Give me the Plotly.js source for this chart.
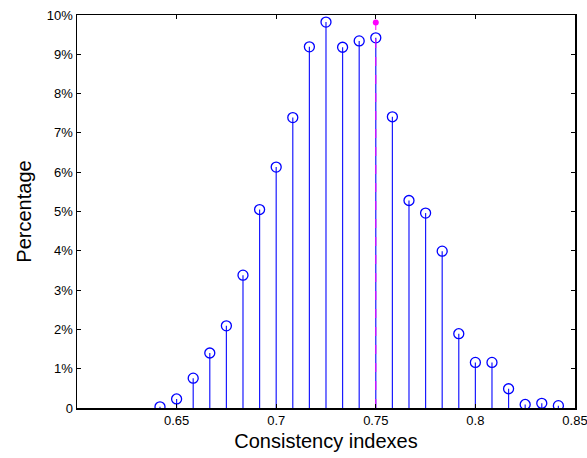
<!DOCTYPE html>
<html>
<head>
<meta charset="utf-8">
<script src="https://cdn.plot.ly/plotly-3.0.1.min.js"></script>
<style>html,body{margin:0;padding:0;background:#fff;overflow:hidden;}#chart{width:587px;height:458px;}</style>
</head>
<body>
<div id="chart"></div>
<script>
// Consistency index bins (k/120) and percentage of occurrences
const indexes = [77,78,79,80,81,82,83,84,85,86,87,88,89,90,91,92,93,94,95,96,97,98,99,100,101].map(k => k/120);
const percentages = [0.03,0.23,0.76,1.40,2.09,3.38,5.05,6.13,7.39,9.19,9.82,9.18,9.34,9.42,7.41,5.28,4.96,3.99,1.89,1.16,1.16,0.49,0.09,0.12,0.06];
const markerIndex = 0.75;
const markerPercent = 9.81;
const xTicks = [0.65,0.7,0.75,0.8,0.85];
const xTickText = ['0.65','0.7','0.75','0.8','0.85'];
const yTicks = [0,1,2,3,4,5,6,7,8,9,10];
const yTickText = ['0','1%','2%','3%','4%','5%','6%','7%','8%','9%','10%'];

const stems = {
  x: indexes, y: percentages, type: 'scatter', mode: 'markers',
  marker: {symbol: 'circle-open', size: 10, color: '#0000ff', line: {width: 1.3, color: '#0000ff'}},
  error_y: {type: 'data', symmetric: false, array: percentages.map(() => 0), arrayminus: percentages, thickness: 1.2, width: 0, color: '#1a1aff'},
  hoverinfo: 'x+y', showlegend: false
};
const refLine = {
  x: [markerIndex, markerIndex], y: [0, markerPercent], type: 'scatter', mode: 'lines',
  line: {color: '#ff00ff', width: 1, dash: 'dash'}, showlegend: false
};
const refDot = {
  x: [markerIndex], y: [markerPercent], type: 'scatter', mode: 'markers',
  marker: {symbol: 'circle', size: 6, color: '#ff00ff'}, showlegend: false
};

const axisCommon = {
  showline: true, linecolor: '#000', linewidth: 1.5, mirror: 'ticks',
  ticks: 'inside', ticklen: 4, tickwidth: 1, tickcolor: '#000',
  showgrid: false, zeroline: false, ticklabeloverflow: 'allow',
  tickfont: {family: 'Liberation Sans, Arial, sans-serif', size: 13, color: '#000'}
};

const layout = {
  width: 587, height: 458,
  margin: {l: 77, r: 12, t: 15, b: 50},
  paper_bgcolor: '#fff', plot_bgcolor: '#fff',
  xaxis: Object.assign({}, axisCommon, {
    range: [0.6, 0.85001], tickvals: xTicks, ticktext: xTickText,
    title: {text: 'Consistency indexes', font: {family: 'Liberation Sans, Arial, sans-serif', size: 20, color: '#000'}, standoff: 7}
  }),
  yaxis: Object.assign({}, axisCommon, {
    range: [0, 10.0001], tickvals: yTicks, ticktext: yTickText,
    title: {text: 'Percentage', font: {family: 'Liberation Sans, Arial, sans-serif', size: 20, color: '#000'}, standoff: 10}
  }),
  showlegend: false
};

Plotly.newPlot('chart', [stems, refLine, refDot], layout, {displayModeBar: false, staticPlot: true});
</script>
</body>
</html>
